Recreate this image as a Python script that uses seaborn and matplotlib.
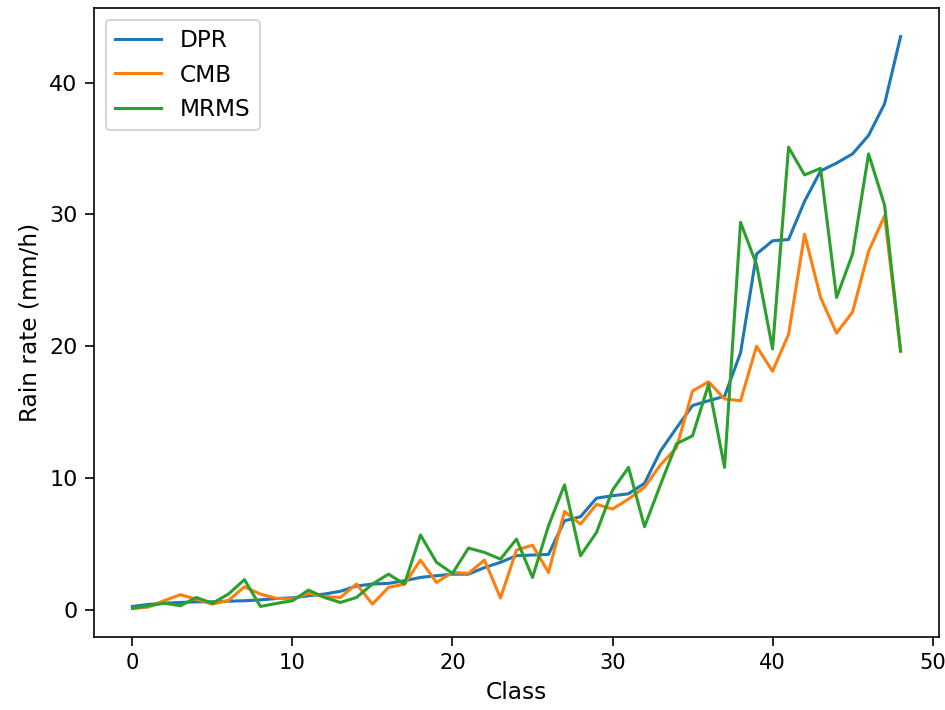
import numpy as np
import pandas as pd
import matplotlib
matplotlib.use("Agg")
import matplotlib.pyplot as plt
import seaborn as sns

classes = list(range(49))
dpr = [0.25, 0.4, 0.5, 0.55, 0.6, 0.6, 0.65, 0.68, 0.75, 0.85, 0.9, 1.06, 1.19, 1.4, 1.8, 1.95, 2.0,
       2.2, 2.45, 2.58, 2.7, 2.7, 3.2, 3.6, 4.1, 4.15, 4.2, 6.75, 7.06, 8.47, 8.65, 8.8, 9.6, 12.05,
       13.8, 15.5, 15.86, 16.2, 19.5, 27.0, 28.0, 28.1, 31.0, 33.3, 33.9, 34.6, 36.0, 38.4, 43.5]
cmb = [0.1, 0.2, 0.7, 1.14, 0.8, 0.43, 0.7, 1.74, 1.19, 0.86, 0.8, 1.24, 0.99, 0.93, 1.95, 0.43, 1.69,
       1.95, 3.77, 2.07, 2.83, 2.76, 3.77, 0.89, 4.53, 4.9, 2.83, 7.46, 6.5, 8.0, 7.64, 8.4, 9.3, 11.0,
       12.3, 16.6, 17.3, 16.0, 15.86, 20.0, 18.1, 20.9, 28.5, 23.7, 21.0, 22.6, 27.2, 29.9, 19.6]
mrms = [0.1, 0.3, 0.5, 0.3, 0.93, 0.48, 1.19, 2.28, 0.25, 0.48, 0.68, 1.49, 0.93, 0.55, 0.93, 1.95, 2.7,
        1.95, 5.67, 3.6, 2.76, 4.68, 4.35, 3.84, 5.36, 2.45, 6.37, 9.48, 4.1, 5.87, 9.08, 10.8, 6.3, 9.5,
        12.6, 13.2, 17.1, 10.8, 29.4, 26.2, 19.8, 35.1, 33.0, 33.5, 23.7, 27.0, 34.6, 30.7, 19.65]

series = {"DPR": dpr, "CMB": cmb, "MRMS": mrms}
colors = {"DPR": "#1f77b4", "CMB": "#ff7f0e", "MRMS": "#2ca02c"}

plt.rcParams["font.size"] = 11.3
plt.rcParams["xtick.labelsize"] = 10.2
plt.rcParams["ytick.labelsize"] = 10.8
plt.rcParams["xtick.major.size"] = 4.4
plt.rcParams["ytick.major.size"] = 4.4

fig = plt.figure(figsize=(945 / 148, 710 / 148), dpi=148)
ax = fig.add_axes([94 / 945, 1 - 637 / 710, (939 - 94) / 945, (637 - 8) / 710])

for name, vals in series.items():
    df = pd.DataFrame({"Class": classes, "Rain": vals})
    sns.lineplot(data=df, x="Class", y="Rain", ax=ax, color=colors[name], label=name, linewidth=1.5)

ax.set_xlabel("Class")
ax.set_ylabel("Rain rate (mm/h)")
ax.set_yticks([0, 10, 20, 30, 40])
ax.set_xticks([0, 10, 20, 30, 40, 50])
ax.legend(loc="upper left")

fig.savefig("out.png", dpi=148)
